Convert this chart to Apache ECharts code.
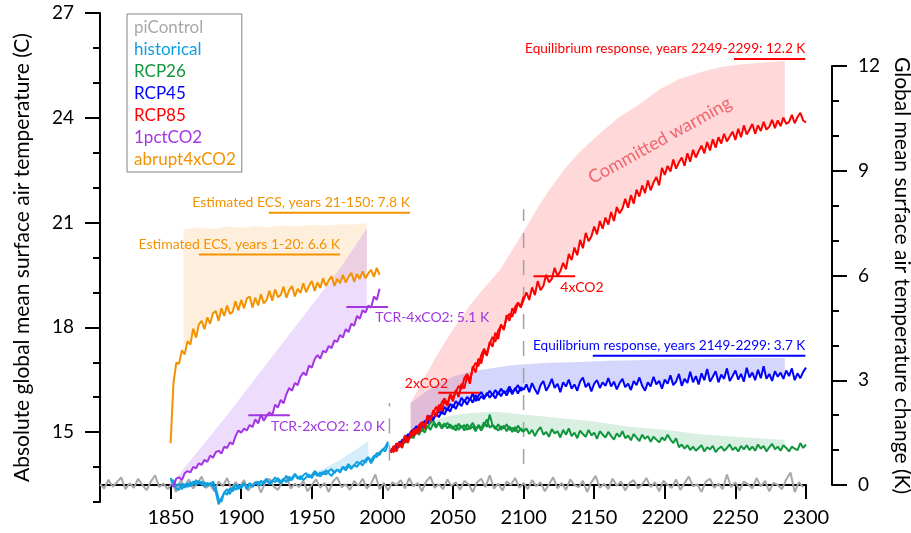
<!DOCTYPE html>
<html>
<head>
<meta charset="utf-8">
<script src="https://cdn.jsdelivr.net/npm/echarts@6/dist/echarts.min.js"></script>
<style>
  html, body { margin: 0; padding: 0; background: #fff; }
  #chart { width: 911px; height: 533px; }
</style>
</head>
<body>
<div id="chart"></div>
<script>
// ---- Global mean surface air temperature change (K, relative to pre-industrial) ----

// piControl: every 3 years from 1800
const piControlStart = 1800, piControlStep = 3;
const piControl = [0.02, -0.10, 0.15, -0.05, 0.08, 0.22, -0.12, 0.05, -0.08, 0.18, 0.00, -0.15, 0.10, 0.28, -0.06, 0.04, -0.12,
  0.06, -0.20, 0.12, -0.02, 0.16, -0.10, 0.05, 0.24, -0.08, 0.00, -0.18, 0.10, -0.04, 0.20, -0.12, 0.08, -0.06,
  0.14, -0.16, 0.02, 0.10, -0.22, 0.06, 0.18, -0.04, -0.14, 0.08, 0.26, -0.10, 0.04, -0.06, 0.12, -0.18, 0.00,
  0.16, -0.08, 0.06, -0.20, 0.10, 0.22, -0.06, 0.02, -0.14, 0.12, -0.02, 0.18, -0.10, 0.04, 0.30, -0.12, 0.06,
  -0.16, 0.08, 0.00, 0.14, -0.10, 0.20, -0.04, 0.06, -0.18, 0.10, 0.24, -0.08, 0.02, -0.12, 0.16, -0.02, 0.08,
  -0.14, 0.12, 0.02, -0.20, 0.08, 0.18, -0.06, 0.28, -0.10, 0.04, -0.16, 0.10, 0.00, 0.20, -0.08, 0.06, -0.12,
  0.14, -0.04, 0.08, -0.18, 0.02, 0.22, -0.10, 0.06, -0.14, 0.16, 0.00, -0.06, 0.12, -0.20, 0.08, 0.26, -0.08,
  0.04, -0.12, 0.18, -0.02, 0.10, -0.16, 0.06, 0.14, -0.10, 0.02, 0.20, -0.06, 0.08, -0.18, 0.12, 0.00, -0.08,
  0.16, -0.14, 0.06, 0.24, -0.04, 0.02, -0.20, 0.10, 0.18, -0.08, 0.04, -0.12, 0.30, -0.06, 0.08, -0.16, 0.10,
  0.02, -0.10, 0.20, -0.04, 0.12, -0.18, 0.06, 0.00, -0.12, 0.16, 0.36, -0.20, 0.08, -0.06];

// historical ensemble members: every 2 years from 1850
const historicalStart = 1850, historicalStep = 2;
const historicalA = [0.20, 0.02, -0.10, -0.14, 0.04, -0.08, 0.06, -0.04, 0.10, 0.02, 0.12, 0.00, 0.08, -0.02, 0.06, -0.04,
  -0.20, -0.55, -0.38, -0.22, -0.12, -0.26, -0.06, -0.14, 0.00, -0.10, 0.04, -0.12, 0.02, -0.06, 0.08, 0.00,
  0.12, 0.04, 0.16, 0.06, 0.14, 0.08, 0.20, 0.10, 0.18, 0.08, 0.24, 0.14, 0.30, 0.18, 0.26, 0.14, 0.22, 0.30,
  0.20, 0.34, 0.26, 0.36, 0.30, 0.42, 0.34, 0.26, 0.38, 0.44, 0.36, 0.50, 0.42, 0.54, 0.46, 0.58, 0.52, 0.64,
  0.56, 0.72, 0.80, 0.62, 0.76, 0.92, 0.86, 1.02, 0.96, 1.18];
const historicalB = [0.10, 0.14, -0.04, 0.04, -0.12, 0.02, -0.06, 0.08, 0.00, 0.14, 0.04, 0.10, -0.06, 0.06, 0.00, 0.10,
  -0.08, -0.40, -0.48, -0.20, -0.28, -0.10, -0.18, 0.02, -0.12, -0.02, 0.06, -0.08, 0.06, -0.04, 0.04, 0.10,
  -0.02, 0.10, 0.18, 0.02, 0.10, 0.22, 0.12, 0.04, 0.14, 0.26, 0.12, 0.20, 0.32, 0.22, 0.16, 0.28, 0.34, 0.22,
  0.28, 0.40, 0.32, 0.24, 0.38, 0.30, 0.40, 0.46, 0.34, 0.44, 0.40, 0.52, 0.48, 0.60, 0.50, 0.56, 0.66, 0.62,
  0.70, 0.64, 0.78, 0.70, 0.84, 0.80, 0.94, 1.00, 1.08, 1.24];

// 1pctCO2 and abrupt4xCO2: every 2 years from 1850
const idealizedStart = 1850, idealizedStep = 2;
const pct1CO2 = [0.00, -0.04, 0.18, 0.22, 0.14, 0.34, 0.40, 0.36, 0.52, 0.48, 0.62, 0.58, 0.72, 0.66, 0.84, 0.78,
  0.94, 0.98, 0.90, 1.10, 1.06, 1.22, 1.16, 1.40, 1.56, 1.50, 1.62, 1.56, 1.72, 1.66, 1.88, 1.76, 2.02, 1.84,
  1.98, 2.08, 2.00, 2.30, 2.22, 2.44, 2.34, 2.60, 2.78, 2.70, 2.92, 2.86, 3.10, 3.22, 3.14, 3.42, 3.36, 3.60,
  3.72, 3.62, 3.84, 3.80, 3.98, 3.92, 4.14, 4.10, 4.30, 4.22, 4.46, 4.38, 4.62, 4.56, 4.84, 4.76, 5.00, 4.94,
  5.14, 5.08, 5.40, 5.30, 5.62];
const abrupt4xCO2 = [1.20, 2.90, 3.50, 3.48, 3.86, 3.74, 4.12, 4.02, 4.48, 4.22, 4.60, 4.70, 4.46, 4.80, 4.62, 4.92,
  4.98, 4.70, 5.06, 4.84, 5.14, 4.90, 4.96, 5.26, 5.00, 5.30, 5.06, 5.34, 5.40, 5.08, 5.36, 5.14, 5.46, 5.20,
  5.30, 5.56, 5.28, 5.60, 5.38, 5.44, 5.68, 5.36, 5.58, 5.70, 5.40, 5.62, 5.50, 5.78, 5.52, 5.70, 5.84, 5.56,
  5.80, 5.64, 5.92, 5.70, 5.86, 5.98, 5.70, 5.90, 5.78, 6.02, 5.80, 5.96, 6.08, 5.82, 6.04, 5.90, 6.12, 5.92,
  6.06, 6.16, 5.96, 6.22, 6.02];

// RCP scenarios 2006-2100 (two members), every 2 years
const rcpStart = 2006, rcpStep = 2;
const rcp26A = [0.94, 1.06, 1.00, 1.18, 1.12, 1.30, 1.24, 1.40, 1.34, 1.52, 1.44, 1.62, 1.50, 1.70, 1.58, 1.76,
  1.64, 1.80, 1.68, 1.76, 1.62, 1.74, 1.60, 1.72, 1.58, 1.70, 1.56, 1.74, 1.60, 1.68, 1.54, 1.72, 1.62, 1.80,
  1.66, 2.02, 1.70, 1.60, 1.74, 1.58, 1.70, 1.54, 1.68, 1.52, 1.66, 1.50, 1.62, 1.56];
const rcp26B = [1.00, 0.98, 1.14, 1.08, 1.26, 1.20, 1.36, 1.46, 1.40, 1.56, 1.62, 1.54, 1.72, 1.66, 1.78, 1.84,
  1.70, 1.76, 1.62, 1.70, 1.78, 1.64, 1.68, 1.56, 1.76, 1.64, 1.72, 1.58, 1.66, 1.78, 1.62, 1.68, 1.56, 1.70,
  1.88, 1.64, 1.72, 1.66, 1.56, 1.68, 1.62, 1.74, 1.58, 1.64, 1.54, 1.70, 1.58, 1.52];
const rcp45A = [0.96, 1.10, 1.02, 1.24, 1.18, 1.40, 1.34, 1.52, 1.60, 1.50, 1.72, 1.66, 1.84, 1.76, 1.92, 1.86,
  2.06, 1.94, 2.10, 2.02, 2.20, 2.10, 2.30, 2.18, 2.36, 2.26, 2.44, 2.30, 2.48, 2.36, 2.58, 2.42, 2.54, 2.46,
  2.64, 2.50, 2.60, 2.48, 2.66, 2.54, 2.70, 2.56, 2.74, 2.60, 2.78, 2.62, 2.80, 2.72];
const rcp45B = [1.02, 1.04, 1.18, 1.12, 1.30, 1.26, 1.46, 1.38, 1.56, 1.68, 1.62, 1.80, 1.70, 1.88, 1.98, 1.90,
  2.00, 2.12, 2.04, 2.24, 2.14, 2.32, 2.22, 2.40, 2.30, 2.50, 2.38, 2.52, 2.44, 2.62, 2.40, 2.56, 2.66, 2.52,
  2.58, 2.70, 2.56, 2.72, 2.60, 2.76, 2.64, 2.68, 2.82, 2.66, 2.74, 2.86, 2.70, 2.78];
const rcp85A = [0.92, 1.12, 0.96, 1.22, 1.06, 1.38, 1.20, 1.52, 1.40, 1.62,
  1.50, 1.78, 1.60, 1.96, 1.82, 2.14, 1.96, 2.30, 2.12, 2.42,
  2.26, 2.56, 2.40, 2.72, 2.52, 2.90, 2.76, 3.12, 2.90, 3.40,
  3.22, 3.62, 3.48, 3.84, 3.70, 4.10, 3.96, 4.36, 4.18, 4.60,
  4.44, 4.86, 4.70, 5.06, 4.92, 5.22, 5.08, 5.30];
const rcp85B = [1.02, 0.94, 1.20, 1.10, 1.18, 1.42, 1.30, 1.36, 1.60, 1.46,
  1.72, 1.80, 1.70, 2.00, 1.88, 2.06, 2.24, 2.10, 2.36, 2.48,
  2.32, 2.60, 2.50, 2.66, 2.84, 2.74, 3.06, 3.18, 3.00, 3.34,
  3.50, 3.40, 3.72, 3.90, 3.76, 4.04, 4.24, 4.10, 4.42, 4.56,
  4.48, 4.78, 4.90, 4.82, 5.10, 5.22, 5.12, 5.40];

// Extensions 2100-2300, every 2 years
const extStart = 2100, extStep = 2;
const rcp26Ext = [1.53, 1.62, 1.46, 1.58, 1.40, 1.56, 1.66, 1.44, 1.52, 1.38, 1.60, 1.48, 1.54, 1.36, 1.58, 1.44, 1.62, 1.40, 1.50, 1.34,
  1.56, 1.46, 1.38, 1.58, 1.42, 1.50, 1.32, 1.54, 1.44, 1.36, 1.52, 1.40, 1.30, 1.48, 1.38, 1.54, 1.34, 1.42, 1.28, 1.46,
  1.36, 1.26, 1.44, 1.32, 1.40, 1.24, 1.38, 1.30, 1.22, 1.36, 1.28, 1.44, 1.30, 1.20, 1.34, 1.08, 1.16, 1.04, 1.14, 1.00,
  1.10, 0.98, 1.06, 1.14, 0.96, 1.08, 1.02, 1.12, 0.94, 1.04, 1.10, 0.98, 1.06, 1.16, 1.00, 1.08, 0.96, 1.12, 1.02, 1.14,
  1.00, 1.10, 0.98, 1.16, 1.04, 1.12, 0.96, 1.08, 1.18, 1.02, 1.10, 0.98, 1.14, 1.06, 0.96, 1.10, 1.04, 1.00, 1.20, 1.06, 1.16];
const rcp45Ext = [2.72, 2.88, 2.66, 2.92, 2.74, 2.60, 2.86, 2.98, 2.70, 2.84, 3.04, 2.78, 2.90, 2.66, 2.94, 2.82, 3.02, 2.76, 2.88, 2.70,
  2.96, 3.08, 2.80, 2.92, 2.68, 2.90, 3.00, 2.78, 2.94, 2.84, 3.06, 2.82, 2.96, 2.74, 2.92, 3.04, 2.80, 2.90, 2.72, 2.98,
  2.86, 3.08, 2.84, 2.70, 2.94, 2.82, 3.10, 2.88, 2.98, 2.76, 3.02, 2.90, 3.14, 2.86, 2.96, 3.18, 2.84, 3.04, 2.92, 3.24,
  2.94, 3.12, 2.88, 3.20, 3.00, 3.32, 2.96, 3.10, 3.26, 2.94, 3.16, 3.04, 3.34, 2.98, 3.12, 3.28, 3.02, 3.18, 2.96, 3.36,
  3.08, 3.22, 3.00, 3.30, 3.06, 3.40, 3.04, 3.18, 2.98, 3.26, 3.10, 3.22, 3.04, 3.28, 3.12, 3.34, 3.00, 3.20, 3.06, 3.24, 3.36];
const rcp85Ext = [5.30, 5.52, 5.30, 5.66, 5.44, 5.84, 5.58, 5.70, 6.02, 5.80,
  5.90, 6.22, 5.98, 6.12, 6.36, 6.18, 6.62, 6.44, 6.80, 6.58,
  7.02, 6.78, 7.22, 6.98, 7.12, 7.40, 7.18, 7.56, 7.34, 7.66,
  7.46, 7.82, 7.56, 7.96, 7.78, 7.92, 8.20, 7.94, 8.30, 8.06,
  8.46, 8.26, 8.58, 8.36, 8.72, 8.44, 8.66, 8.82, 8.58, 9.08,
  8.88, 9.14, 8.98, 9.32, 9.06, 9.24, 9.38, 9.14, 9.50, 9.26,
  9.60, 9.38, 9.56, 9.72, 9.50, 9.82, 9.58, 9.90, 9.66, 9.96,
  9.78, 10.06, 9.84, 9.98, 10.12, 9.88, 10.20, 9.96, 10.30, 10.04,
  10.18, 10.34, 10.06, 10.30, 10.14, 10.40, 10.18, 10.26, 10.46, 10.22,
  10.44, 10.28, 10.52, 10.34, 10.40, 10.60, 10.36, 10.54, 10.66, 10.44, 10.38];

// Estimated equilibrium warming envelopes (upper edge of the shaded regions)
const histEqYears = [1948, 1960, 1970, 1980, 1990];
const histEq = [0.28, 0.50, 0.72, 0.98, 1.25];
const abruptEqYears = [1859, 1870, 1880, 1890, 1900, 1910, 1920, 1930, 1940, 1950, 1960, 1970, 1980, 1989];
const abruptEq = [7.32, 7.38, 7.33, 7.40, 7.36, 7.42, 7.38, 7.44, 7.40, 7.45, 7.43, 7.47, 7.46, 7.50];
const pctEqYears = [1850, 1870, 1890, 1910, 1930, 1950, 1970, 1989];
const pctEq = [0.00, 1.00, 2.00, 3.05, 4.10, 5.15, 6.20, 7.35];
const rcp85EqYears = [2020, 2030, 2041, 2050, 2062, 2070, 2083, 2090, 2100, 2110, 2119, 2130, 2140, 2155, 2168, 2180, 2197, 2210, 2225, 2240, 2253, 2270, 2285];
const rcp85Eq = [2.35, 3.10, 3.87, 4.45, 5.15, 5.55, 6.15, 6.60, 7.25, 7.95, 8.50, 9.10, 9.55, 10.10, 10.55, 10.85, 11.35, 11.62, 11.82, 11.97, 12.04, 12.10, 12.15];
const rcp45EqYears = [2020, 2030, 2040, 2050, 2060, 2070, 2080, 2090, 2100, 2120, 2140, 2160, 2180, 2200, 2220, 2240, 2260, 2285];
const rcp45Eq = [2.35, 2.65, 2.92, 3.10, 3.22, 3.30, 3.36, 3.42, 3.46, 3.50, 3.52, 3.56, 3.57, 3.60, 3.60, 3.62, 3.63, 3.64];
const rcp26EqYears = [2020, 2030, 2040, 2050, 2065, 2080, 2100, 2125, 2150, 2175, 2200, 2225, 2250, 2285];
const rcp26Eq = [1.55, 1.75, 1.90, 2.00, 2.07, 2.10, 2.02, 1.92, 1.82, 1.67, 1.58, 1.45, 1.38, 1.29];

// Summary diagnostics (K)
const ecsYears1to20 = 6.6, ecsYears21to150 = 7.8;
const tcr2x = 2.0, tcr4x = 5.1;
const eqRcp45 = 3.7, eqRcp85 = 12.2;
const rcp85At2xCO2 = 2.64, rcp85At4xCO2 = 5.98;

// Period markers (start of scenarios, end of CMIP5 RCP runs)
const markerYears = [2005, 2100];
const markerRanges = [[0.70, 2.35], [0.60, 7.90]];

// Axis ticks
const absTempLabels = [15, 18, 21, 24, 27];

// ---------------------------------------------------------------------------
const FONT = 'Lato, "Noto Sans", sans-serif';
const C = {
  pi: '#a8a8a8', hist: '#0ea0e2', r26: '#10963c', r45: '#0000ff',
  r85: '#ff0000', p1: '#a236e2', ab: '#f39200'
};

const pairs = (start, step, vals) => vals.map((v, i) => [start + i * step, v]);
const zip = (xs, ys) => xs.map((x, i) => [x, ys[i]]);

function interp(pts, x) {
  for (let i = 1; i < pts.length; i++) {
    if (pts[i][0] >= x) {
      const a = pts[i - 1], b = pts[i];
      const t = (x - a[0]) / (b[0] - a[0]);
      return a[1] + t * (b[1] - a[1]);
    }
  }
  return pts[pts.length - 1][1];
}

function line(name, data, color, z) {
  return {
    type: 'line', name, data, xAxisIndex: 1, yAxisIndex: 2,
    symbol: 'none', clip: false, silent: true, z: z || 3,
    lineStyle: { color, width: 2 }, itemStyle: { color }
  };
}

// Shaded region between a simulated curve and its equilibrium envelope
function band(lowerPts, upperPts, fill) {
  const x0 = upperPts[0][0], x1 = upperPts[upperPts.length - 1][0];
  const lower = [[x0, interp(lowerPts, x0)]]
    .concat(lowerPts.filter(p => p[0] > x0 && p[0] < x1))
    .concat([[x1, interp(lowerPts, x1)]]);
  const ring = lower.concat(upperPts.slice().reverse());
  return {
    type: 'custom', xAxisIndex: 1, yAxisIndex: 2, z: 1, silent: true,
    data: [[x0, upperPts[0][1]]],
    renderItem: (params, api) => ({
      type: 'polygon',
      shape: { points: ring.map(p => api.coord(p)) },
      style: { fill }
    })
  };
}

const piData = pairs(piControlStart, piControlStep, piControl);
const histA = pairs(historicalStart, historicalStep, historicalA);
const histB = pairs(historicalStart, historicalStep, historicalB);
const pctData = pairs(idealizedStart, idealizedStep, pct1CO2);
const abData = pairs(idealizedStart, idealizedStep, abrupt4xCO2);
const r26A = pairs(rcpStart, rcpStep, rcp26A), r26B = pairs(rcpStart, rcpStep, rcp26B);
const r45A = pairs(rcpStart, rcpStep, rcp45A), r45B = pairs(rcpStart, rcpStep, rcp45B);
const r85A = pairs(rcpStart, rcpStep, rcp85A), r85B = pairs(rcpStart, rcpStep, rcp85B);
const r26X = pairs(extStart, extStep, rcp26Ext);
const r45X = pairs(extStart, extStep, rcp45Ext);
const r85X = pairs(extStart, extStep, rcp85Ext);
const joinExt = (a, x) => a.concat(x.filter(p => p[0] > a[a.length - 1][0]));

const annotations = [
  { x1: 1870, x2: 1970, v: ecsYears1to20, text: `Estimated ECS, years 1-20: ${ecsYears1to20.toFixed(1)} K`, color: C.ab, place: 'aboveEnd', size: 14 },
  { x1: 1919.5, x2: 2019.5, v: ecsYears21to150, text: `Estimated ECS, years 21-150: ${ecsYears21to150.toFixed(1)} K`, color: C.ab, place: 'aboveEnd', size: 14 },
  { x1: 1905, x2: 1934.5, v: tcr2x, text: `TCR-2xCO2: ${tcr2x.toFixed(1)} K`, color: C.p1, place: 'belowMid', dx: 2, size: 14 },
  { x1: 1974.5, x2: 2004, v: tcr4x, text: `TCR-4xCO2: ${tcr4x.toFixed(1)} K`, color: C.p1, place: 'belowMid', dx: 8, size: 14 },
  { x1: 2039.5, x2: 2069, v: rcp85At2xCO2, text: '2xCO2', color: C.r85, place: 'aboveStart', size: 14 },
  { x1: 2107, x2: 2136.5, v: rcp85At4xCO2, text: '4xCO2', color: C.r85, place: 'belowMid', dx: 6, size: 14 },
  { x1: 2149, x2: 2299.5, v: eqRcp45, text: `Equilibrium response, years 2149-2299: ${eqRcp45.toFixed(1)} K`, color: C.r45, place: 'aboveEnd', size: 13.6 },
  { x1: 2249, x2: 2299.5, v: eqRcp85, text: `Equilibrium response, years 2249-2299: ${eqRcp85.toFixed(1)} K`, color: C.r85, place: 'aboveEnd', size: 13.6 }
];
const committedLabel = { x: 2196.5, v: 9.87, text: 'Committed warming', angle: 29 };

function renderAnnotation(params, api) {
  const a = annotations[params.dataIndex];
  const p1 = api.coord([a.x1, a.v]), p2 = api.coord([a.x2, a.v]);
  let tx, ty, align;
  if (a.place === 'aboveEnd') { tx = p2[0]; ty = p1[1] - 10; align = 'right'; }
  else if (a.place === 'aboveStart') { tx = p1[0] + 10; ty = p1[1] - 9; align = 'right'; }
  else { tx = (p1[0] + p2[0]) / 2 + (a.dx || 0); ty = p1[1] + 11; align = 'left'; }
  return {
    type: 'group',
    children: [
      { type: 'line', shape: { x1: p1[0], y1: p1[1], x2: p2[0], y2: p2[1] }, style: { stroke: a.color, lineWidth: 2 } },
      { type: 'text', style: { text: a.text, x: tx, y: ty, fill: a.color, font: a.size + 'px ' + FONT, align, verticalAlign: 'middle' } }
    ]
  };
}

const series = [
  line('piControl', piData, C.pi, 2),
  band(histB, zip(histEqYears, histEq), 'rgba(120,200,240,0.30)'),
  band(abData, zip(abruptEqYears, abruptEq), 'rgba(250,190,120,0.25)'),
  band(pctData, zip(pctEqYears, pctEq), 'rgba(190,130,240,0.28)'),
  band(joinExt(r26A, r26X), zip(rcp26EqYears, rcp26Eq), 'rgba(80,180,120,0.22)'),
  band(joinExt(r45A, r45X), zip(rcp45EqYears, rcp45Eq), 'rgba(100,110,240,0.28)'),
  band(joinExt(r85A, r85X), zip(rcp85EqYears, rcp85Eq), 'rgba(255,120,120,0.28)'),
  ...markerYears.map((yr, i) => ({
    type: 'line', xAxisIndex: 1, yAxisIndex: 2, symbol: 'none', silent: true, z: 2,
    data: [[yr, markerRanges[i][0]], [yr, markerRanges[i][1]]],
    lineStyle: { color: '#a0a0a0', width: 1.5, type: [15, 12] }
  })),
  line('historical', histA, C.hist), line('historical', histB, C.hist),
  line('RCP26', r26A, C.r26), line('RCP26', r26B, C.r26), line('RCP26', r26X, C.r26),
  line('RCP45', r45A, C.r45), line('RCP45', r45B, C.r45), line('RCP45', r45X, C.r45),
  line('RCP85', r85B, C.r85), line('RCP85', r85A, C.r85), line('RCP85', r85X, C.r85),
  line('1pctCO2', pctData, C.p1),
  line('abrupt4xCO2', abData, C.ab),
  {
    type: 'custom', xAxisIndex: 1, yAxisIndex: 2, z: 6, silent: true,
    data: annotations.map(a => [a.x1, a.v]),
    renderItem: renderAnnotation
  },
  {
    type: 'custom', xAxisIndex: 1, yAxisIndex: 2, z: 6, silent: true,
    data: [[committedLabel.x, committedLabel.v]],
    renderItem: (params, api) => {
      const p = api.coord([committedLabel.x, committedLabel.v]);
      return {
        type: 'text', x: p[0], y: p[1], rotation: committedLabel.angle * Math.PI / 180,
        style: { text: committedLabel.text, x: 0, y: 0, fill: 'rgba(238,80,92,0.85)', font: '18px ' + FONT, align: 'center', verticalAlign: 'middle' }
      };
    }
  }
];

const axisBlack = { color: '#000', width: 2 };
const legendNames = ['piControl', 'historical', 'RCP26', 'RCP45', 'RCP85', '1pctCO2', 'abrupt4xCO2'];
const legendColors = [C.pi, C.hist, C.r26, C.r45, C.r85, C.p1, C.ab];

const option = {
  animation: false,
  backgroundColor: '#fff',
  textStyle: { fontFamily: FONT },
  grid: [
    { left: 100, right: 105, top: 13, bottom: 31, outerBoundsMode: 'none', containLabel: false },
    { left: 100, right: 105, top: 66, bottom: 48, outerBoundsMode: 'none', containLabel: false }
  ],
  legend: {
    orient: 'vertical', left: 127, top: 14,
    padding: [5, 6, 4, 0], itemGap: 5, itemWidth: 2, itemHeight: 14,
    icon: 'rect', itemStyle: { color: 'rgba(0,0,0,0)', opacity: 0, borderWidth: 0 },
    lineStyle: { opacity: 0 }, selectedMode: false,
    borderColor: '#808080', borderWidth: 1, backgroundColor: '#fff',
    textStyle: { fontFamily: FONT, fontSize: 17 },
    data: legendNames.map((n, i) => ({ name: n, textStyle: { color: legendColors[i] } }))
  },
  xAxis: [
    { gridIndex: 0, type: 'value', min: 1800, max: 2300, show: false },
    {
      gridIndex: 1, type: 'value', min: 1800, max: 2300, interval: 50,
      axisLine: { show: true, lineStyle: axisBlack },
      axisTick: { show: true, length: 14, lineStyle: axisBlack },
      axisLabel: { showMinLabel: false, margin: 23, fontSize: 20, color: '#000', fontFamily: FONT, formatter: v => String(v) },
      splitLine: { show: false }
    }
  ],
  yAxis: [
    {
      gridIndex: 0, type: 'value', position: 'left', min: 13, max: 27, interval: 1,
      axisLine: { show: true, lineStyle: axisBlack },
      axisTick: { show: true, length: 7, lineStyle: axisBlack },
      axisLabel: { show: false }, splitLine: { show: false },
      name: 'Absolute global mean surface air temperature (C)',
      nameLocation: 'middle', nameRotate: 90, nameGap: 67,
      nameTextStyle: { fontSize: 21, color: '#000', fontFamily: FONT }
    },
    {
      gridIndex: 0, type: 'value', position: 'left', min: 13, max: 27,
      axisLine: { show: false },
      axisTick: { show: true, length: 15, lineStyle: axisBlack, customValues: absTempLabels },
      axisLabel: { customValues: absTempLabels, margin: 26, fontSize: 19, color: '#000', fontFamily: FONT },
      splitLine: { show: false }
    },
    {
      gridIndex: 1, type: 'value', position: 'right', offset: 26, min: 0, max: 12, interval: 3,
      axisLine: { show: true, lineStyle: axisBlack },
      axisTick: { show: true, length: 15, lineStyle: axisBlack },
      minorTick: { show: true, splitNumber: 3, length: 7, lineStyle: axisBlack },
      axisLabel: { margin: 26, fontSize: 19, color: '#000', fontFamily: FONT },
      splitLine: { show: false }, minorSplitLine: { show: false },
      name: 'Global mean surface air temperature change (K)',
      nameLocation: 'middle', nameRotate: -90, nameGap: 56,
      nameTextStyle: { fontSize: 21, color: '#000', fontFamily: FONT }
    }
  ],
  series
};

const chart = echarts.init(document.getElementById('chart'), null, { renderer: 'canvas' });
chart.setOption(option);
</script>
</body>
</html>
